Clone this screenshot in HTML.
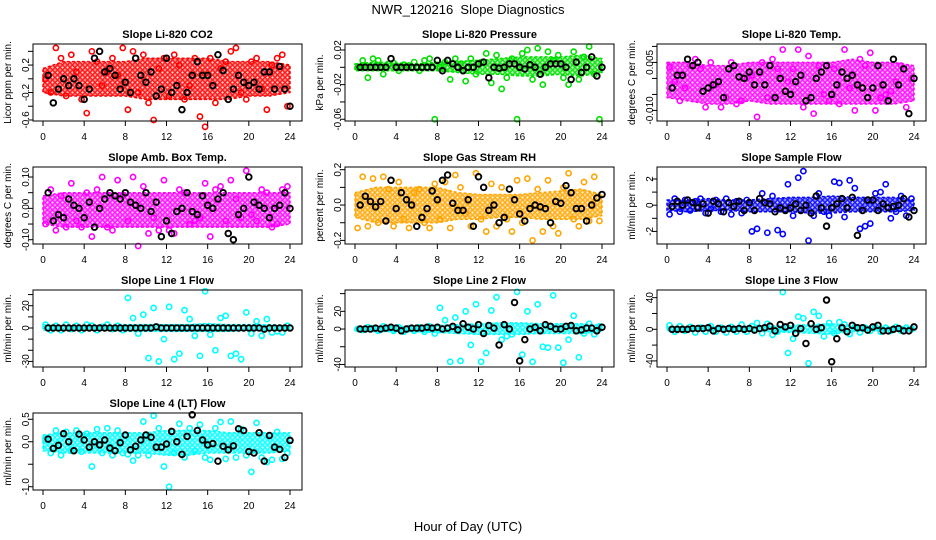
<!DOCTYPE html>
<html><head><meta charset="utf-8"><style>
html,body{margin:0;padding:0;background:#fff;}
svg{display:block;font-family:"Liberation Sans",sans-serif;}
</style></head><body>
<svg id="chart" width="936" height="540" viewBox="0 0 936 540">
<defs id="defs"></defs>
<text x="468" y="14" text-anchor="middle" font-size="13">NWR_120216&#160; Slope Diagnostics</text>
<text x="468" y="531" text-anchor="middle" font-size="13">Hour of Day (UTC)</text>
</svg>
<script>
// ---- data (values per panel) ----
const titles = ["Slope Li-820 CO2","Slope Li-820 Pressure","Slope Li-820 Temp.","Slope Amb. Box Temp.","Slope Gas Stream RH","Slope Sample Flow","Slope Line 1 Flow","Slope Line 2 Flow","Slope Line 3 Flow","Slope Line 4 (LT) Flow"];
const yTitles = ["Licor ppm per min.","kPa per min.","degrees C per min.","degrees C per min.","percent per min.","ml/min per min.","ml/min per min.","ml/min per min.","ml/min per min.","ml/min per min."];
const colors = ["#ff0000","#00e000","#ff00ff","#ff00ff","#ffa500","#0000ff","#00ffff","#00ffff","#00ffff","#00ffff"];
const units = [1,1,0.001,0.01,0.01,0.1,1,1,1,0.01];
const yDomains = [[-0.615,0.507],[-0.062,0.0269],[-0.0133,0.01075],[-0.1137,0.132],[-0.2204,0.2153],[-2.96,2.916],[-35,34.1],[-42.9,44.1],[-47.7,49.7],[-1.073,0.64]];
const yTicks = [[-0.6,-0.4,-0.2,0,0.2,0.4],[-0.06,-0.04,-0.02,0,0.02],[-0.01,-0.005,0,0.005,0.01],[-0.1,-0.05,0,0.05,0.1],[-0.2,-0.1,0,0.1,0.2],[-2,-1,0,1,2],[-30,-20,-10,0,10,20,30],[-40,-20,0,20,40],[-40,-20,0,20,40],[-1,-0.5,0,0.5]];
const yTickLabels = [["-0.6","","-0.2","","0.2",""],["-0.06","","-0.02","","0.02"],["-0.010","","","0.005",""],["-0.10","","0.00","","0.10"],["-0.2","","0.0","","0.2"],["-2","","0","","2"],["-30","","","0","","20",""],["-40","","0","20",""],["-40","","0","","40"],["-1.0","","0.0","0.5"]];
const xTicks = [0,4,8,12,16,20,24];
const bandHours = [0,2,4,6,8,10,12,14,16,18,20,22,24];
const bandLo = [
[-0.2,-0.25,-0.25,-0.25,-0.25,-0.3,-0.3,-0.3,-0.3,-0.3,-0.25,-0.25,-0.2],
[-0.004,-0.004,-0.004,-0.004,-0.004,-0.006,-0.008,-0.008,-0.01,-0.01,-0.008,-0.01,-0.006],
[-0.006,-0.007,-0.008,-0.008,-0.007,-0.008,-0.008,-0.008,-0.008,-0.008,-0.008,-0.008,-0.007],
[-0.05,-0.06,-0.06,-0.06,-0.06,-0.06,-0.06,-0.06,-0.06,-0.06,-0.06,-0.06,-0.05],
[-0.07,-0.1,-0.1,-0.1,-0.1,-0.08,-0.08,-0.07,-0.07,-0.08,-0.08,-0.08,-0.06],
[-0.4,-0.5,-0.4,-0.4,-0.5,-0.5,-0.5,-0.6,-0.6,-0.5,-0.5,-0.5,-0.4],
[-2,-2,-2,-2,-3,-3,-3,-3,-3,-3,-2,-2,-2],
[-2,-3,-3,-3,-4,-5,-6,-6,-6,-5,-5,-5,-3],
[-2,-2,-2,-2,-2,-3,-4,-5,-6,-3,-2,-2,-2],
[-0.2,-0.25,-0.25,-0.25,-0.25,-0.25,-0.3,-0.3,-0.25,-0.25,-0.25,-0.25,-0.2]];
const bandHi = [
[0.15,0.25,0.25,0.25,0.25,0.3,0.3,0.3,0.3,0.25,0.25,0.25,0.2],
[0.004,0.006,0.005,0.004,0.006,0.007,0.008,0.01,0.012,0.012,0.012,0.014,0.01],
[0.005,0.005,0.004,0.004,0.005,0.005,0.005,0.005,0.005,0.006,0.005,0.005,0.004],
[0.04,0.05,0.05,0.05,0.05,0.05,0.05,0.05,0.05,0.05,0.05,0.05,0.05],
[0.07,0.1,0.1,0.1,0.1,0.07,0.06,0.06,0.06,0.07,0.08,0.09,0.06],
[0.4,0.4,0.5,0.4,0.4,0.5,0.6,0.6,0.7,0.6,0.6,0.6,0.4],
[3,2,2,2,3,3,3,3,4,3,3,3,2],
[2,3,3,3,4,5,6,7,7,6,6,6,4],
[3,3,3,3,3,4,5,6,7,4,3,3,3],
[0.15,0.2,0.2,0.2,0.2,0.2,0.25,0.25,0.25,0.2,0.2,0.2,0.2]];
// colored scatter (in panel units), at hours 0.25,0.75,...
const scatterVals = [
[0,-0.2,0.45,0.3,-0.25,0.35,0.1,-0.3,-0.5,0.4,0.25,-0.1,0.1,0.3,0.05,0.45,-0.45,0.4,-0.2,0.35,-0.35,-0.6,0.15,0.3,-0.25,0.35,0.2,-0.3,-0.1,0.3,-0.55,-0.7,0.3,-0.35,0.15,0.25,0.4,0.45,-0.2,-0.3,0.25,0.3,-0.15,-0.45,0.2,0.3,0.35,-0.4],
[0,0.008,-0.012,0.01,0.008,-0.008,0.004,0.005,-0.004,0.003,0.002,0.006,-0.004,0.008,0.01,-0.06,0,0.006,-0.014,0.01,0.004,-0.016,0.01,-0.008,0.006,0.016,-0.018,0.014,-0.025,-0.012,0.01,-0.06,0.016,0.02,-0.014,0.022,-0.02,0.018,0.008,0.014,-0.012,-0.02,0.018,-0.014,0.012,0.024,-0.008,-0.06],
[3.5,-1,-7,-3,4,6,3,-9,5,-2,-9,-6,5,-8,-7,0,1,-12,5,-6,6,3,9,-1,3,9,-9,7,-11,4,-5,-7,3,-8,9,-3,-10,6,4,8,-10,-6,-5,-4,-1,4,-9,0],
[-5,6,-7,4,-6,8,-4,-6,5,-9,6,10,-6,-7,9,4,-4,10,-12,7,-8,-3,-7,9,-7,-8,6,5,-5,-4,-3,8,-9,6,7,-4,9,3,-3,12,-2,-4,6,5,-6,-5,6,7],
[-13,16,-12,15,-10,16,9,-12,13,-8,-13,7,9,-10,-13,12,-8,13,-13,17,10,-5,-12,18,-8,-15,12,-12,10,-8,-15,14,-10,15,-20,9,-15,14,-12,-16,10,18,-8,-12,13,-9,16,-9],
[-7,5,-5,4,-4,3,5,-6,-3,4,-5,5,-7,3,-6,4,-20,-18,9,-21,7,-19,-22,16,-8,21,26,-27,-8,9,-5,-8,18,17,-9,19,13,-18,-16,-14,9,10,16,-10,-5,7,-8,5],
[3,-2,2,-2,3,-1,2,-2,3,2,-2,1,3,-1,2,-2,27,9,-5,12,-27,18,-30,-10,19,-28,-23,16,8,-7,-25,33,-6,-20,9,11,-25,-23,-28,14,-5,6,-7,8,-4,-3,-4,2],
[0,-1,2,1,-2,3,1,-2,2,-3,1,-2,2,-3,3,-5,24,10,-37,13,-36,20,-18,28,-37,-27,21,36,-12,-8,-6,42,-29,20,-37,28,-20,-21,38,-21,-38,-12,15,-32,-5,6,-6,3],
[5,-3,4,-2,3,-4,2,-3,4,-3,2,-4,3,-3,6,-3,4,8,-5,7,-7,-3,47,-30,-12,16,14,-43,22,17,-9,8,-5,9,6,-6,3,-4,2,-2,3,-3,2,-2,3,-2,2,0],
[5,-25,25,-30,22,-20,25,-22,18,-55,28,-25,30,-30,25,-25,-28,-42,-30,45,-30,58,30,-55,-100,-25,40,-35,30,-20,38,-35,-40,30,44,-38,45,-35,28,-30,-67,42,-35,-45,-40,22,-38,-25]];
// black points (in panel units), at hours 0.5,1.0,...,24
const blackVals = [
[0.05,-0.35,-0.15,0,-0.1,0,-0.1,-0.3,-0.15,0.3,0.4,0.1,0.15,0.05,-0.15,-0.05,-0.2,0.3,0.05,-0.05,0.1,-0.25,-0.15,0.3,-0.2,-0.1,-0.45,-0.2,0.05,0.25,0.05,0.05,-0.1,0.35,0.12,-0.3,-0.15,0.05,-0.05,-0.1,-0.05,-0.15,0.1,0.1,-0.15,0.18,-0.15,-0.4],
[0,0,0,0,0,0,0.01,0,0,0,0,0,0,0,0,0.008,-0.004,0.008,0.004,0,-0.004,0,0,0.004,0.006,-0.012,0,-0.001,0,0.004,0.004,0,-0.002,0.003,0,-0.008,0,0.004,0.004,0.004,0,-0.014,0.006,-0.006,0,0.012,-0.01,0],
[-3,1,1,6,4,5,-4,-3,-2,-1,-6,3,4,0.5,0,2,-2,2,-2,4,-6,0,-4,-5,-1,1,-7,-6,0,2,4,-5,-2,2,0,1,-2,-3,-6,-3,4,-2,-7,6,-2,3,-11,0],
[5,-4,-2,-3,3,1,0,-3,2,-6,0,3,5,4,3,5,2,1,0,5,-1,2,-9,-4,-8,-1,0,5,-1,-2,4,1,0,3,5,-8,-10,-2,0,10,2,1,0,-3,0,1,5,0],
[0,5,2,-1,2,-9,14,-2,7,3,0,-12,-7,-2,8,3,14,17,1,-3,-3,3,-12,16,10,-3,0,-10,-7,9,3,-5,-9,-2,0,-1,-2,-10,2,1,11,7,-2,-2,-9,0,4,6],
[-1,3,0,4,2,-2,1,-6,3,1,-5,2,-1,3,-4,2,-4,5,2,1,-5,-2,-4,-2,1,-4,0,-6,7,-2,-16,-2,1,5,-2,6,-23,-4,4,4,-4,1,-2,-1,0,5,-9,-4],
[0,0,0,0,0,0,0,0,0,0,0,0,0,0,0,0,0,0,0,0,0,1,0,0,0,0,0,0,0,0,0,0,0,0,0,0,0,0,0,0,0,0,-1,0,0,0,0,0],
[0,0,0,1,0,1,2,1,-2,0,1,1,1,2,1,2,0,1,3,-1,6,2,0,5,-5,4,1,-18,5,0,30,-36,-12,0,2,-2,5,3,0,0,3,4,-2,-1,1,1,-2,2],
[0,0,0,0,1,1,1,2,-2,1,0,1,0,1,0,1,-1,1,2,4,-2,6,3,5,-5,1,-18,7,0,2,37,-41,-12,2,-3,5,2,2,-1,3,5,-2,-2,0,1,-2,-2,3],
[6,-15,-8,18,0,-20,17,4,-12,0,-7,4,-14,-20,-2,15,-18,-10,4,15,10,-12,-12,-5,23,0,-28,12,60,25,4,-7,-4,-43,-10,-18,-9,29,25,-22,-25,20,-43,14,-12,-17,-35,3]];

// ---- drawing ----
const NS = "http://www.w3.org/2000/svg";
const svg = document.getElementById("chart");
const defs = document.getElementById("defs");
const colLeft = [33, 345, 657], rowTop = [44, 167, 290, 413];
const W = 269, H = 77;
function mk(tag, attrs, parent) {
  const e = document.createElementNS(NS, tag);
  for (const k in attrs) e.setAttribute(k, attrs[k]);
  parent.appendChild(e);
  return e;
}
function slug(s){return s.toLowerCase().replace(/[^a-z0-9]+/g,'-').replace(/^-|-$/g,'');}

titles.forEach((title, p) => {
  const L = colLeft[p % 3], T = rowTop[Math.floor(p / 3)];
  const xS = h => L + 10 + h * (247 / 24);
  const [y0, y1] = yDomains[p];
  const yS = v => T + (y1 - v) / (y1 - y0) * H;
  const g = mk("g", {}, svg);
  
  

  // texture pattern of open circles
  const pat = mk("pattern", {id: "pat" + p, width: 5, height: 5, patternUnits: "userSpaceOnUse"}, defs);
  mk("rect", {width: 5, height: 5, fill: colors[p], "fill-opacity": 0.45}, pat);
  mk("circle", {cx: 2.5, cy: 2.5, r: 1.8, fill: "#fff", "fill-opacity": 0.6, stroke: colors[p], "stroke-width": 1.2}, pat);

  const t = mk("text", {x: L + W / 2, y: T - 6, "text-anchor": "middle", "font-size": 11, "font-weight": "bold"}, g);
  t.textContent = title;
  
  

  let pts = bandHours.map((h, i) => xS(h) + "," + yS(bandHi[p][i])).join(" ") + " " +
    bandHours.slice().reverse().map((h, i) => xS(h) + "," + yS(bandLo[p][bandHours.length - 1 - i])).join(" ");
  const band = mk("polygon", {points: pts, fill: "url(#pat" + p + ")", stroke: colors[p], "stroke-width": 1.5, "stroke-dasharray": "3 2", "stroke-linejoin": "round"}, g);
  
  

  const sg = mk("g", {fill: "none", stroke: colors[p], "stroke-width": 1.6}, g);
  
  
  scatterVals[p].forEach((v, i) => {
    const c = mk("circle", {cx: xS(0.25 + 0.5 * i), cy: yS(v * units[p]), r: 2.6}, sg);
    
    
  });
  const bg = mk("g", {fill: "none", stroke: "#000", "stroke-width": 1.9}, g);
  
  
  blackVals[p].forEach((v, i) => {
    const c = mk("circle", {cx: xS(0.5 + 0.5 * i), cy: yS(v * units[p]), r: 2.8}, bg);
    
    
  });

  const box = mk("rect", {x: L, y: T, width: W, height: H, fill: "none", stroke: "#000", "stroke-width": 1}, g);
  
  

  xTicks.forEach(h => {
    mk("line", {x1: xS(h), x2: xS(h), y1: T + H, y2: T + H + 5, stroke: "#000"}, g);
    const tl = mk("text", {x: xS(h), y: T + H + 19, "text-anchor": "middle", "font-size": 10}, g);
    tl.textContent = h;
    
    
  });
  yTicks[p].forEach((v, i) => {
    const y = yS(v);
    mk("line", {x1: L - 5, x2: L, y1: y, y2: y, stroke: "#000"}, g);
    const lab = yTickLabels[p][i];
    if (lab) {
      const tl = mk("text", {x: L - 4, y: y, "text-anchor": "middle", "font-size": 10, transform: "rotate(-90 " + (L - 4) + " " + y + ")"}, g);
      tl.textContent = lab;
      
      
    }
  });
  const yt = mk("text", {x: L - 22, y: T + H / 2, "text-anchor": "middle", "font-size": 10, transform: "rotate(-90 " + (L - 22) + " " + (T + H / 2) + ")"}, g);
  yt.textContent = yTitles[p];
  
  
});
</script>
</body></html>
